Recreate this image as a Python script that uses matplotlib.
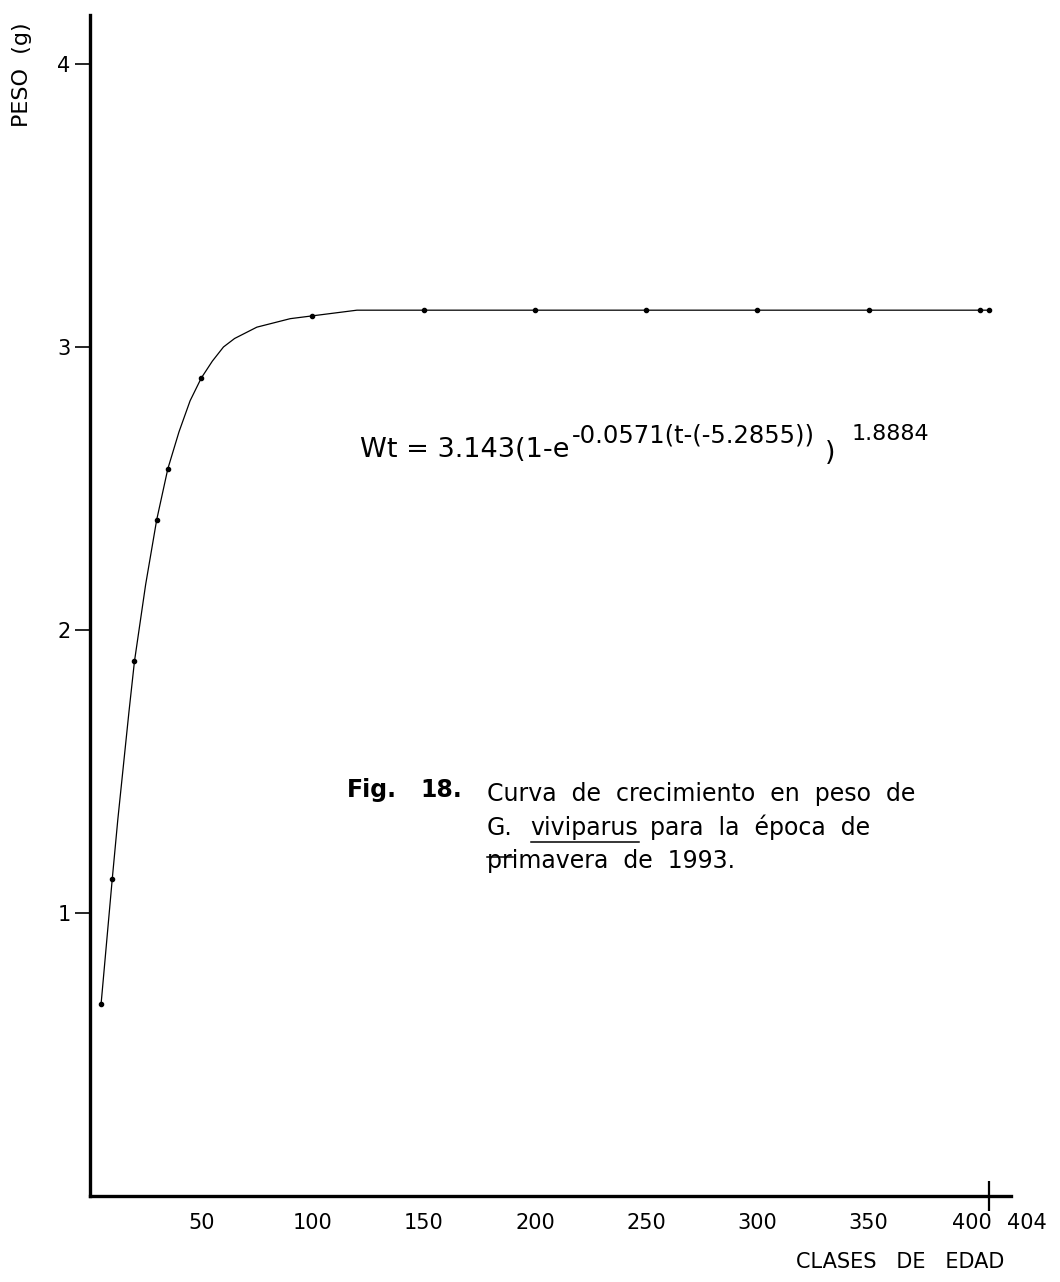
import matplotlib
matplotlib.use('Agg')
import matplotlib.pyplot as plt
from matplotlib.lines import Line2D
from matplotlib.transforms import ScaledTranslation

# ─── Datos ───────────────────────────────────────────────────────────────────
# puntos marcados (clase de edad, peso en g)
MARK_X = [5, 10, 20, 30, 35, 50, 100, 150, 200, 250, 300, 350, 400, 404]
MARK_Y = [0.68, 1.12, 1.89, 2.39, 2.57, 2.89, 3.11, 3.13, 3.13, 3.13,
          3.13, 3.13, 3.13, 3.13]
# trazo de la curva, leido a lo largo del dibujo
CURVE_X = [5, 7.5, 10, 12.5, 15, 17.5, 20, 25, 30, 35, 40, 45, 50, 55, 60,
           65, 70, 75, 80, 90, 100, 110, 120, 150, 200, 250, 300, 350,
           400, 404]
CURVE_Y = [0.68, 0.90, 1.12, 1.33, 1.52, 1.71, 1.89, 2.16, 2.39, 2.57,
           2.70, 2.81, 2.89, 2.95, 3.00, 3.03, 3.05, 3.07, 3.08, 3.10,
           3.11, 3.12, 3.13, 3.13, 3.13, 3.13, 3.13, 3.13, 3.13, 3.13]

X_TICKS = [50, 100, 150, 200, 250, 300, 350, 400]
X_EXTRA = [404]
Y_TICKS = [1, 2, 3, 4]

# ecuacion: (texto, tamano, linea base en px, hueco previo en px)
FORMULA = [("Wt = 3.143(1-e", 19.5, 457, 0),
           ("-0.0571(t-(-5.2855))", 17.5, 443, 2),
           (")", 19.5, 460, 10),
           ("1.8884", 16, 440, 17)]

# ─── Figura ──────────────────────────────────────────────────────────────────
W, H = 1060, 1282
fig = plt.figure(figsize=(W / 100, H / 100), dpi=100, facecolor='white')
ax = fig.add_axes([90 / W, 86 / H, 921 / W, 1181 / H])

ax.plot(CURVE_X, CURVE_Y, color='black', linewidth=0.9, zorder=2)
ax.plot(MARK_X, MARK_Y, linestyle='none', marker='o', markersize=3,
        color='black', zorder=3)

ax.set_xlim(0, 414)
ax.set_ylim(0, 4.173)

for s in ('top', 'right'):
    ax.spines[s].set_visible(False)
for s in ('left', 'bottom'):
    ax.spines[s].set_linewidth(2.4)

ax.set_yticks(Y_TICKS)
ax.set_yticklabels([str(v) for v in Y_TICKS])
ax.tick_params(axis='y', direction='out', length=11, width=1.2, pad=3,
               labelsize=15)

ax.set_xticks(X_TICKS)
ax.set_xticklabels([str(v) for v in X_TICKS])
ax.set_xticks(X_EXTRA, minor=True)
ax.set_xticklabels([str(v) for v in X_EXTRA], minor=True)
ax.tick_params(axis='x', which='major', length=0, pad=12, labelsize=15)
ax.tick_params(axis='x', which='minor', direction='inout', length=22,
               width=1.6, pad=1, labelsize=15)
# separar las etiquetas 400 / 404 como en el original
for lab in ax.get_xticklabels():
    if lab.get_text() == '400':
        lab.set_transform(lab.get_transform() +
                          ScaledTranslation(-8 / 100, 0, fig.dpi_scale_trans))
for lab in ax.get_xticklabels(minor=True):
    lab.set_transform(lab.get_transform() +
                      ScaledTranslation(38 / 100, 0, fig.dpi_scale_trans))

# ─── Rotulos ─────────────────────────────────────────────────────────────────
fig.text(22 / W, 1 - 75 / H, "PESO  (g)", rotation=90, ha='center',
         va='center', fontsize=16)
fig.text(900 / W, 1 - 1262 / H, "CLASES   DE   EDAD", ha='center',
         va='center', fontsize=15)

renderer = fig.canvas.get_renderer()

# ecuacion por piezas
x0 = 360
for txt, fs, yb, gap in FORMULA:
    t = fig.text((x0 + gap) / W, 1 - yb / H, txt, ha='left', va='baseline',
                 fontsize=fs)
    x0 = t.get_window_extent(renderer).x1

# pie de figura
fig.text(347 / W, 1 - 797 / H, "Fig.", ha='left', va='baseline',
         fontsize=17, fontweight='bold')
fig.text(420 / W, 1 - 797 / H, "18.", ha='left', va='baseline',
         fontsize=17, fontweight='bold')
fig.text(487 / W, 1 - 801 / H, "Curva  de  crecimiento  en  peso  de",
         ha='left', va='baseline', fontsize=17)
fig.text(487 / W, 1 - 868 / H, "primavera  de  1993.",
         ha='left', va='baseline', fontsize=17)

# segunda linea: "G." y "viviparus" subrayados
x0 = 487
for txt, gap, ul in [("G.", 0, 857), ("viviparus", 18, 842),
                     ("para  la  época  de", 11, None)]:
    t = fig.text((x0 + gap) / W, 1 - 835 / H, txt, ha='left',
                 va='baseline', fontsize=17)
    bb = t.get_window_extent(renderer)
    if ul is not None:
        fig.add_artist(Line2D([bb.x0 / W, bb.x1 / W],
                              [1 - ul / H, 1 - ul / H],
                              color='black', linewidth=1.1))
    x0 = bb.x1

fig.savefig('out.png', dpi=100, facecolor='white')
